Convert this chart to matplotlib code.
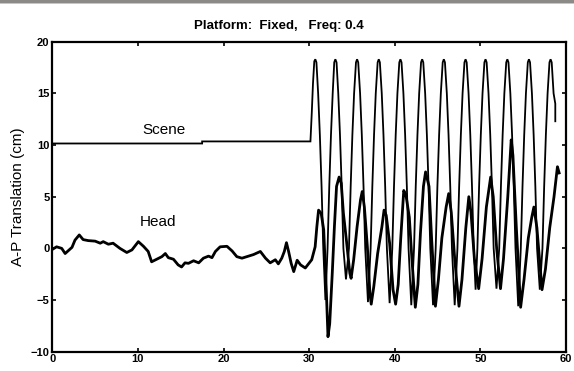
import matplotlib
matplotlib.use("Agg")
import matplotlib.pyplot as plt
from matplotlib.patches import Rectangle

plt.rcParams['font.family'] = ['Liberation Sans', 'DejaVu Sans']

title = "Platform:  Fixed,   Freq: 0.4"
ylabel = "A-P Translation (cm)"
xticks = [0, 10, 20, 30, 40, 50, 60]
yticks = [-10, -5, 0, 5, 10, 15, 20]

scene_x = [0.0, 17.5, 17.5, 30.15,
           30.3, 30.45, 30.6, 30.72, 30.85, 31.05, 31.25, 31.45, 31.65, 31.9,
           32.15, 32.35, 32.55, 32.75, 32.93, 33.06, 33.2, 33.4, 33.6, 33.8, 34.0, 34.3,
           34.65, 34.85, 35.05, 35.25, 35.47, 35.6, 35.73, 35.95, 36.15, 36.35, 36.55, 36.87,
           37.18, 37.38, 37.58, 37.78, 38.0, 38.13, 38.26, 38.48, 38.68, 38.88, 39.08, 39.4,
           39.71, 39.91, 40.11, 40.31, 40.53, 40.66, 40.79, 41.01, 41.21, 41.41, 41.61, 41.93,
           42.25, 42.45, 42.65, 42.85, 43.07, 43.2, 43.33, 43.55, 43.75, 43.95, 44.15, 44.47,
           44.78, 44.98, 45.18, 45.38, 45.6, 45.73, 45.86, 46.08, 46.28, 46.48, 46.68, 47.0,
           47.32, 47.52, 47.72, 47.92, 48.14, 48.27, 48.4, 48.62, 48.82, 49.02, 49.22, 49.44,
           49.65, 49.85, 50.05, 50.25, 50.47, 50.6, 50.73, 50.95, 51.15, 51.35, 51.55, 51.88,
           52.2, 52.4, 52.6, 52.8, 53.02, 53.15, 53.28, 53.5, 53.7, 53.9, 54.1, 54.42,
           54.72, 54.92, 55.12, 55.32, 55.54, 55.67, 55.8, 56.02, 56.22, 56.42, 56.62, 56.94,
           57.25, 57.45, 57.65, 57.85, 58.07, 58.2, 58.33, 58.55, 58.75, 58.75]
scene_y = [10.15, 10.15, 10.35, 10.35,
           13, 16, 18.1, 18.3, 18.0, 15, 11, 6, 0, -5,
           0, 6, 11, 15, 18, 18.3, 18, 15, 11, 6, 0, -3,
           0, 6, 11, 15, 18, 18.3, 18, 15, 11, 6, 0, -5.2,
           0, 6, 11, 15, 18, 18.3, 18, 15, 11, 6, 0, -5.3,
           0, 6, 11, 15, 18, 18.3, 18, 15, 11, 6, 0, -5.5,
           0, 6, 11, 15, 18, 18.3, 18, 15, 11, 6, 0, -5.5,
           0, 6, 11, 15, 18, 18.3, 18, 15, 11, 6, 0, -5.5,
           0, 6, 11, 15, 18, 18.3, 18, 15, 11, 6, 0, -4.0,
           0, 6, 11, 15, 18, 18.3, 18, 15, 11, 6, 0, -3.9,
           0, 6, 11, 15, 18, 18.3, 18, 15, 11, 6, 0, -5.6,
           0, 6, 11, 15, 18, 18.3, 18, 15, 11, 6, 0, -4.0,
           0, 6, 11, 15, 18, 18.3, 18, 15, 14.0, 12.3]

head_x = [0.0, 0.5, 1.1, 1.5, 1.9, 2.3, 2.65, 3.15, 3.6, 4.2, 5.0, 5.6, 5.95, 6.55, 7.1,
          7.9, 8.7, 9.3, 10.05, 10.65, 11.2, 11.6, 12.2, 12.8, 13.2, 13.55, 14.15, 14.7,
          15.1, 15.5, 15.9, 16.5, 17.1, 17.65, 18.25, 18.65, 19.05, 19.6, 20.4, 21.0,
          21.55, 22.15, 22.9, 23.5, 24.3, 24.9, 25.45, 26.05, 26.4, 26.8, 27.1, 27.35,
          27.6, 27.9, 28.2, 28.6, 29.0, 29.55, 30.3, 30.7, 30.9, 31.1, 31.4, 31.7, 32.0,
          32.2, 32.4, 32.7, 32.95, 33.2, 33.5, 33.75, 34.0, 34.35, 34.75, 34.9, 35.2,
          35.6, 36.0, 36.2, 36.45, 36.8, 37.1, 37.25, 37.55, 38.0, 38.5, 38.75, 39.0,
          39.4, 39.8, 40.1, 40.4, 40.7, 41.05, 41.3, 41.7, 42.0, 42.4, 42.7, 43.0, 43.35,
          43.6, 44.0, 44.3, 44.75, 45.1, 45.5, 46.0, 46.3, 46.6, 47.0, 47.5, 47.85, 48.3,
          48.65, 48.9, 49.3, 49.8, 50.2, 50.7, 51.2, 51.5, 51.9, 52.35, 52.7, 53.2, 53.6,
          53.8, 54.2, 54.7, 55.1, 55.6, 56.0, 56.25, 56.6, 57.2, 57.6, 58.1, 58.6, 59.0,
          59.2]
head_y = [-0.1, 0.15, 0.0, -0.5, -0.2, 0.1, 0.8, 1.3, 0.85, 0.75, 0.7, 0.5, 0.65, 0.4, 0.5,
          0.0, -0.4, -0.15, 0.65, 0.2, -0.3, -1.3, -1.05, -0.8, -0.5, -0.9, -1.05, -1.6,
          -1.8, -1.4, -1.45, -1.2, -1.4, -0.95, -0.75, -0.9, -0.3, 0.15, 0.2, -0.25,
          -0.8, -0.95, -0.75, -0.6, -0.3, -0.95, -1.4, -1.1, -1.5, -0.95, -0.3, 0.55,
          -0.3, -1.45, -2.25, -1.15, -1.6, -1.9, -1.1, 0.15, 2.1, 3.7, 3.4, 1.8, -4.0,
          -8.55, -7.3, -2.4, 2.1, 6.0, 6.9, 6.3, 3.4, 0.8, -2.4, -2.9, -1.1,
          2.1, 4.7, 5.5, 4.0, 0.15, -4.4, -5.4, -3.7, -0.5, 2.1, 3.7, 3.2,
          0.5, -4.0, -5.4, -3.5, 1.0, 5.6, 5.2, 3.0, -1.0, -5.7, -3.5, 1.5, 6.0,
          7.4, 6.0, 1.0, -5.6, -3.0, 1.0, 4.0, 5.3, 3.5, -1.0, -5.6, -3.0, 2.0,
          5.0, 3.5, -1.0, -3.9, -1.0, 4.0, 6.9, 5.0, 0.0, -3.9, -1.0, 5.0, 10.5,
          9.0, 2.0, -5.7, -3.0, 1.0, 3.0, 4.0, 2.0, -4.0, -2.0, 2.0, 5.0, 7.9,
          7.3]

fig = plt.figure(figsize=(5.74, 3.71), dpi=100)
fig.patches.append(Rectangle((0, 1 - 3/371), 1, 3/371, transform=fig.transFigure,
                             facecolor='#8c8a86', edgecolor='none', zorder=0))
fig.patches.append(Rectangle((0, 1 - 4/371), 1, 1/371, transform=fig.transFigure,
                             facecolor='#c8c6c2', edgecolor='none', zorder=0))

ax = fig.add_axes([52.3/574, 19.3/371, (566-52.3)/574, (351.7-41.7)/371])
ax.plot(scene_x, scene_y, color='black', lw=1.3, solid_joinstyle='miter')
ax.plot(head_x, head_y, color='black', lw=2.0)

ax.set_xlim(0, 60)
ax.set_ylim(-10, 20)
ax.set_xticks(xticks)
ax.set_yticks(yticks)
ax.tick_params(direction='in', length=3, width=1.2, top=True, right=True,
               labelsize=8, pad=2)
for lab in ax.get_xticklabels() + ax.get_yticklabels():
    lab.set_fontweight('bold')
for s in ax.spines.values():
    s.set_linewidth(1.6)

ax.set_ylabel(ylabel, fontsize=11, labelpad=4)
fig.text(279/574, 1 - 26/371, title, ha='center', va='center', fontsize=9.5,
         fontweight='bold')

ax.text(13.1, 11.5, "Scene", ha='center', va='center', fontsize=11)
ax.text(12.4, 2.6, "Head", ha='center', va='center', fontsize=11)

fig.savefig("out.png", dpi=100)
